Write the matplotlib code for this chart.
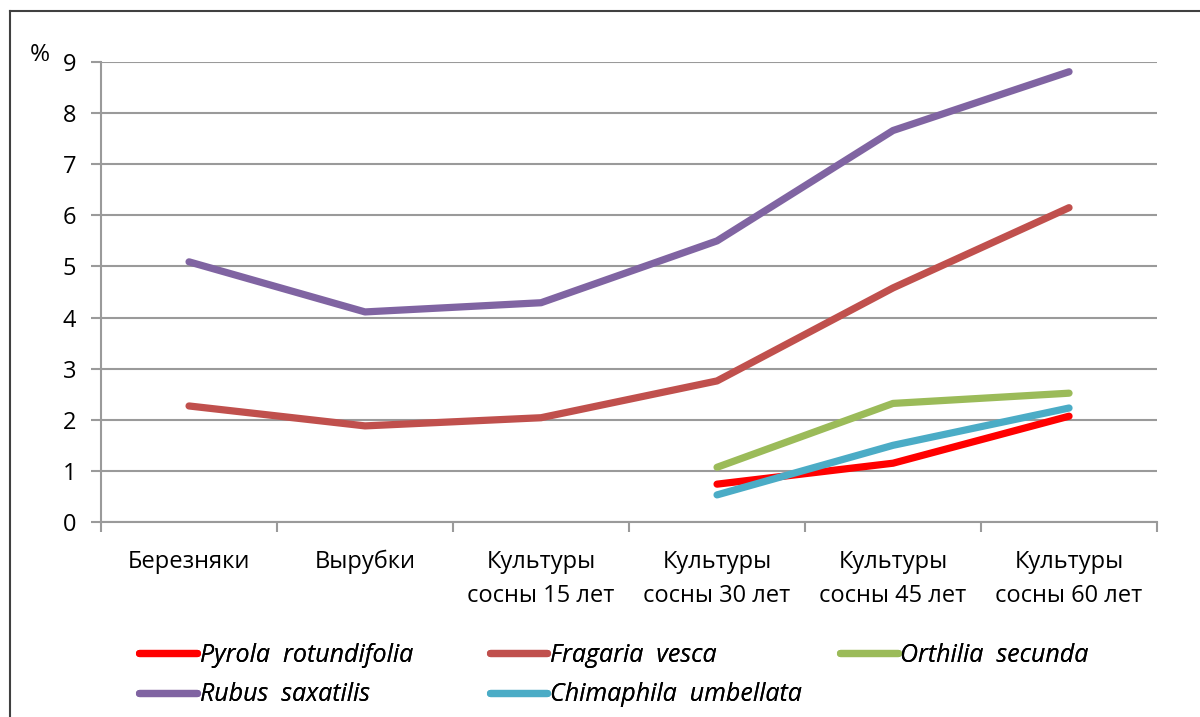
import matplotlib
matplotlib.use("Agg")
import matplotlib.pyplot as plt
from matplotlib.lines import Line2D
import numpy as np

plt.rcParams['font.family'] = ['Open Sans', 'DejaVu Sans']

categories = ['Березняки', 'Вырубки', 'Культуры\nсосны 15 лет',
              'Культуры\nсосны 30 лет', 'Культуры\nсосны 45 лет',
              'Культуры\nсосны 60 лет']

pyrola = [None, None, None, 0.74, 1.15, 2.07]
fragaria = [2.27, 1.88, 2.04, 2.76, 4.58, 6.15]
orthilia = [None, None, None, 1.07, 2.32, 2.52]
rubus = [5.09, 4.11, 4.29, 5.5, 7.66, 8.81]
chimaphila = [None, None, None, 0.53, 1.5, 2.23]

series = [
    ('Pyrola  rotundifolia', pyrola, '#FF0000'),
    ('Fragaria  vesca', fragaria, '#C0504D'),
    ('Orthilia  secunda', orthilia, '#9BBB59'),
    ('Rubus  saxatilis', rubus, '#8064A2'),
    ('Chimaphila  umbellata', chimaphila, '#4BACC6'),
]

fig = plt.figure(figsize=(12, 7.17), dpi=100)
ax = fig.add_axes([0.0842, 0.272, 0.8800, 0.6415])

x = np.arange(len(categories))
handles = {}
for name, vals, col in series:
    v = np.array([np.nan if a is None else a for a in vals], dtype=float)
    ax.plot(x, v, color=col, lw=5.2, solid_capstyle='round',
            solid_joinstyle='round', zorder=3)
    handles[name] = Line2D([0], [0], color=col, lw=5.2,
                           solid_capstyle='round', label=name)

ax.set_xlim(-0.5, len(categories) - 0.5)
ax.set_ylim(0, 9)
ax.set_yticks(range(10))
ax.yaxis.grid(True, color='#9a9a9a', lw=1.5)
ax.set_axisbelow(True)

ax.set_xticks(np.arange(-0.5, len(categories)), minor=False)
ax.set_xticklabels([])
ax.set_xticks(x, minor=True)
ax.set_xticklabels(categories, minor=True, fontsize=17, linespacing=1.55)
ax.tick_params(axis='x', which='minor', length=0, pad=20)
ax.tick_params(axis='x', which='major', length=7, width=1.5,
               color='#9a9a9a', direction='out')
ax.tick_params(axis='y', length=7, width=1.5, color='#9a9a9a',
               labelsize=17, pad=11)

for s in ['top', 'right']:
    ax.spines[s].set_visible(False)
for s in ['left', 'bottom']:
    ax.spines[s].set_color('#9a9a9a')
    ax.spines[s].set_linewidth(1.5)

fig.text(0.025, 0.915, '%', fontsize=17.5)

# outer frame
fig.add_artist(Line2D([0.0085, 1.0], [0.985, 0.985], color='#404040', lw=1.5))
fig.add_artist(Line2D([0.0085, 0.0085], [0.0, 0.985], color='#404040', lw=1.5))

# legend: three equal-width columns, filled row by row
columns = [['Pyrola  rotundifolia', 'Rubus  saxatilis'],
           ['Fragaria  vesca', 'Chimaphila  umbellata'],
           ['Orthilia  secunda']]
col_x = [0.116, 0.408, 0.700]
for names, cx in zip(columns, col_x):
    leg = fig.legend(handles=[handles[k] for k in names], loc='upper left',
                     bbox_to_anchor=(cx, 0.103), frameon=False,
                     prop={'style': 'italic', 'size': 18},
                     handlelength=2.3, handletextpad=0.12,
                     labelspacing=0.57, borderaxespad=0, borderpad=0)
    fig.add_artist(leg)

fig.savefig('out.png', dpi=100)
